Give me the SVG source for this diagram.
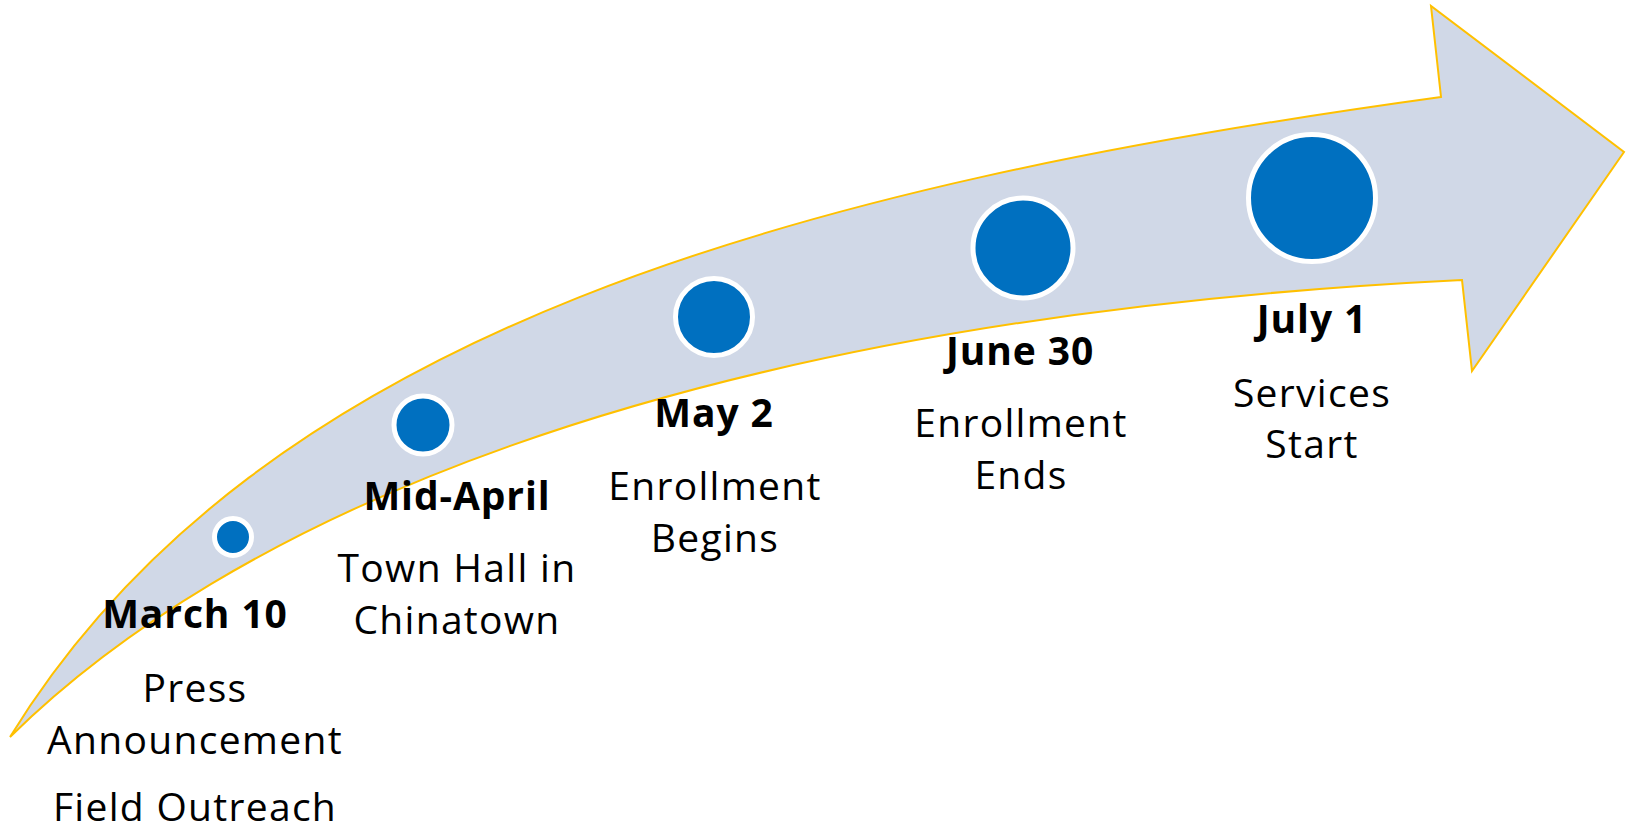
<svg xmlns="http://www.w3.org/2000/svg" width="1633" height="832" viewBox="0 0 1633 832">
<style>
.arrow{fill:#D0D8E7;stroke:#FFC000;stroke-width:2;stroke-linejoin:miter}
.dot{fill:#0070C0;stroke:#FFFFFF;stroke-width:5}
text{font-family:"Open Sans","Liberation Sans",sans-serif;font-size:39px;fill:#000;text-anchor:middle;letter-spacing:1.3px}
.b{font-weight:bold;letter-spacing:0.9px}
</style>
<rect width="1633" height="832" fill="#FFFFFF"/>
<g id="connectors">
<path class="arrow" d="M 10,737 C 260,330 800,185 1441,97 L 1431,6 L 1624,152 L 1472,371 L 1462,280 C 650,320 220,530 10,737 Z"/>
</g>
<g id="march10">
<circle class="dot" cx="233" cy="537" r="18.5"/>
<text class="b" x="195" y="628">March 10</text>
<text x="195" y="702">Press</text>
<text x="195" y="754">Announcement</text>
<text x="195" y="821">Field Outreach</text>
</g>
<g id="midapril">
<circle class="dot" cx="423" cy="425" r="29"/>
<text class="b" x="457" y="510">Mid-April</text>
<text x="457" y="582">Town Hall in</text>
<text x="457" y="634">Chinatown</text>
</g>
<g id="may2">
<circle class="dot" cx="714" cy="317" r="38.5"/>
<text class="b" x="714" y="427">May 2</text>
<text x="715" y="500">Enrollment</text>
<text x="715" y="552">Begins</text>
</g>
<g id="june30">
<circle class="dot" cx="1023" cy="248" r="50"/>
<text class="b" x="1020" y="365">June 30</text>
<text x="1021" y="437">Enrollment</text>
<text x="1021" y="489">Ends</text>
</g>
<g id="july1">
<circle class="dot" cx="1312" cy="198" r="63.5"/>
<text class="b" x="1312" y="333">July 1</text>
<text x="1312" y="407">Services</text>
<text x="1312" y="458">Start</text>
</g>
</svg>
